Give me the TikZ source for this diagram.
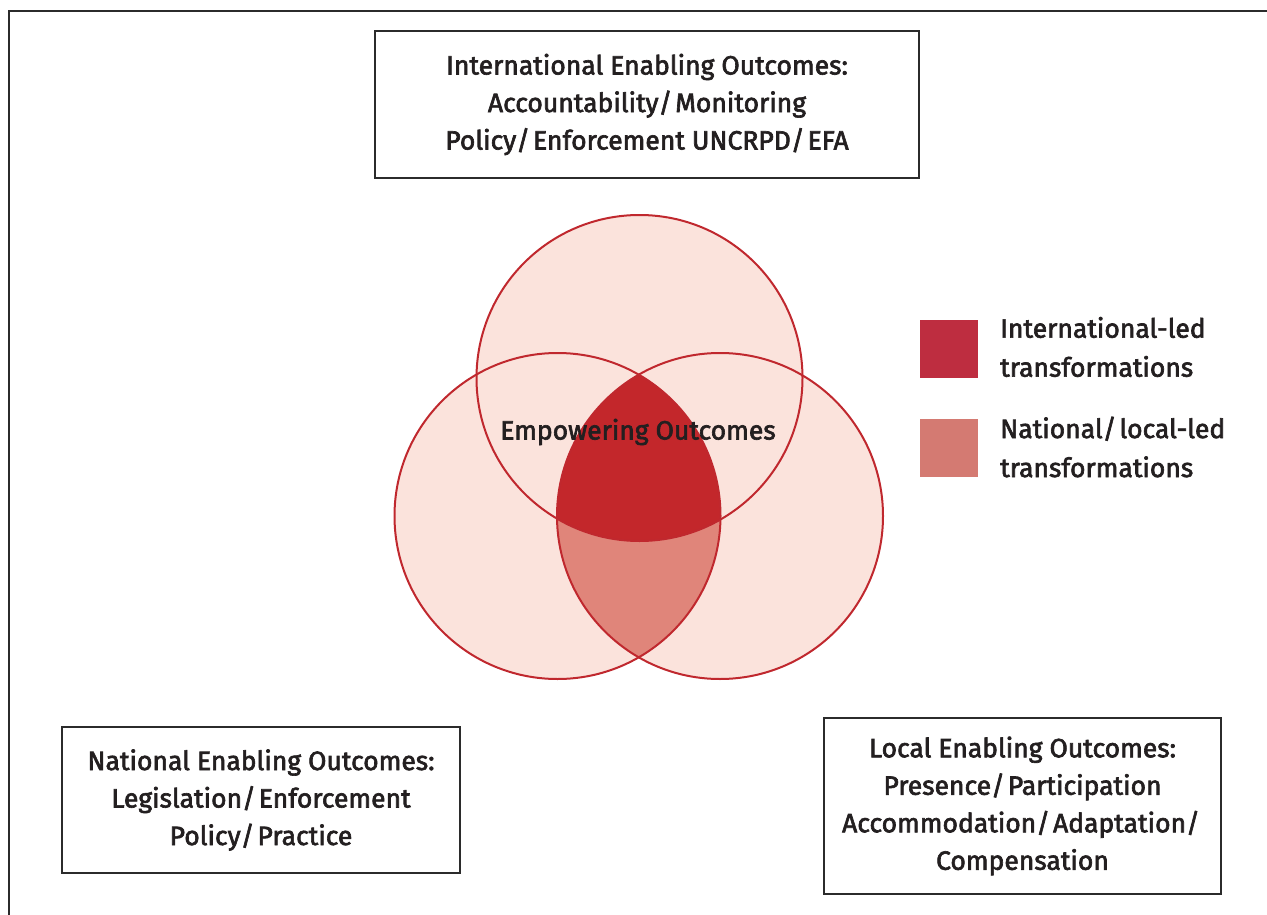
\documentclass[tikz,border=0pt]{standalone}
\usepackage{fontspec}
\setmainfont{Fira Sans}[FakeBold=2.4]
\definecolor{framegray}{HTML}{2B2B2B}
\definecolor{lightpink}{HTML}{FBE3DC}
\definecolor{midred}{HTML}{E0857A}
\definecolor{darkred}{HTML}{C3272B}
\definecolor{ringred}{HTML}{C0282E}
\definecolor{legdark}{HTML}{BE2D40}
\definecolor{legmid}{HTML}{D47A72}
\definecolor{txt}{HTML}{231F20}
\tikzset{
  outbox/.style={draw=framegray, line width=1.3pt, align=center, inner sep=0pt, text=txt,
    font=\fontsize{26.5}{37.5}\selectfont},
  ring/.style={draw=ringred, line width=2pt},
  legsq/.style={minimum width=58pt, minimum height=58pt, inner sep=0pt},
  legtxt/.style={anchor=west, align=left, inner sep=0pt, text=txt, font=\fontsize{26.5}{39}\selectfont},
}
\newcommand{\slsp}{/\kern3pt}
\begin{document}
\begin{tikzpicture}[x=1pt,y=-1pt]
\useasboundingbox (0,0) rectangle (1267,915);
% outer frame (runs off the right and bottom edges)
\draw[framegray, line width=2pt] (8.5,930) -- (8.5,11.5) -- (1280,11.5);
% circle centres
\coordinate (T) at (639.5,378);
\coordinate (L) at (557.5,516);
\coordinate (R) at (720,516);
\def\rr{163}
% base fills
\fill[lightpink] (T) circle (\rr);
\fill[lightpink] (L) circle (\rr);
\fill[lightpink] (R) circle (\rr);
% lower lens
\begin{scope}
  \clip (L) circle (\rr);
  \fill[midred] (R) circle (\rr);
\end{scope}
% triple intersection
\begin{scope}
  \clip (L) circle (\rr);
  \clip (R) circle (\rr);
  \fill[darkred] (T) circle (\rr);
\end{scope}
% outlines
\draw[ring] (T) circle (\rr);
\draw[ring] (L) circle (\rr);
\draw[ring] (R) circle (\rr);
\node[text=txt, font=\fontsize{26.5}{30}\selectfont, inner sep=0pt] (emp) at (638,432) {Empowering Outcomes};
% boxes
\node[outbox, minimum width=544pt, minimum height=147pt] (intl) at (647,104.5)
  {International Enabling Outcomes:\\Accountability\slsp Monitoring\\Policy\slsp Enforcement UNCRPD\slsp EFA};
\node[outbox, minimum width=398pt, minimum height=146pt] (natl) at (261,800)
  {National Enabling Outcomes:\\Legislation\slsp Enforcement\\Policy\slsp Practice};
\node[outbox, minimum width=397pt, minimum height=176pt] (locl) at (1022.5,806)
  {Local Enabling Outcomes:\\Presence\slsp Participation\\Accommodation\slsp Adaptation\slsp\\Compensation};
% legend
\node[legsq, fill=legdark] (sq1) at (949,349) {};
\node[legsq, fill=legmid] (sq2) at (949,448) {};
\node[legtxt] (lt1) at (1000,347) {International-led\\transformations};
\node[legtxt] (lt2) at (1000,447) {National\slsp local-led\\transformations};
\end{tikzpicture}
\end{document}
